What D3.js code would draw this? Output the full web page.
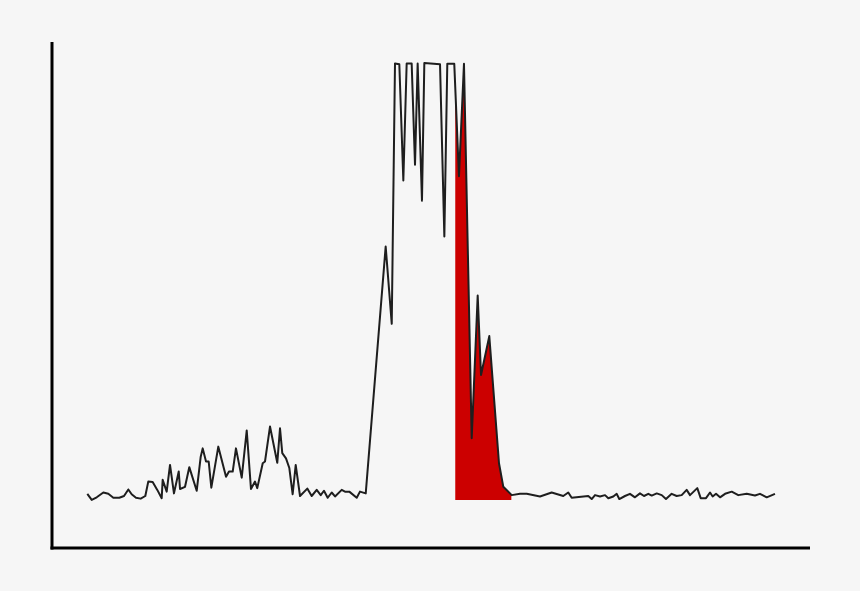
<!DOCTYPE html>
<html lang="en">
<head>
  <meta charset="UTF-8">
  <title>Signal with highlighted band</title>
  <script src="https://d3js.org/d3.v7.min.js"></script>
  <style>
    html, body { margin: 0; padding: 0; background: #f6f6f6; }
    .signal { fill: none; stroke: #1e1e1e; stroke-width: 2; stroke-linejoin: round; }
    .band { fill: #cc0000; }
    .axis-line { stroke: #000; stroke-width: 3; }
  </style>
</head>
<body>
  <div id="chart"></div>
  <script>
    // positions along the trace (arbitrary units, 0-100)
    const xs = [
      4.66, 5.24, 5.90, 6.77, 7.43, 8.09, 8.88, 9.50, 10.07, 10.51,
      11.08, 11.70, 12.31, 12.70, 13.28, 13.89, 14.47, 14.60, 15.13, 15.57,
      16.09, 16.72, 16.89, 17.55, 18.11, 19.09, 19.62, 19.88, 20.32, 20.67,
      21.02, 21.94, 22.96, 23.35, 23.84, 24.27, 25.03, 25.69, 26.25, 26.78,
      27.08, 27.80, 28.10, 28.76, 29.72, 30.08, 30.38, 30.87, 31.31, 31.75,
      32.15, 32.72, 33.68, 34.26, 34.92, 35.45, 35.88, 36.37, 36.90, 37.34,
      38.22, 38.65, 39.22, 40.20, 40.63, 41.39, 44.02, 44.82, 45.25, 45.82,
      46.35, 46.79, 47.45, 47.89, 48.24, 48.81, 49.12, 51.19, 51.76, 52.15,
      53.07, 53.69, 54.35, 55.37, 56.16, 56.60, 57.69, 58.97, 59.54, 60.65,
      61.74, 62.63, 64.38, 65.92, 67.45, 68.11, 68.56, 70.75, 71.20, 71.64,
      72.30, 72.96, 73.39, 74.05, 74.50, 74.84, 75.59, 76.25, 76.91, 77.57,
      78.10, 78.67, 79.12, 79.78, 80.44, 81.00, 81.75, 82.41, 83.07, 83.73,
      84.17, 85.13, 85.58, 86.28, 86.81, 87.16, 87.60, 88.13, 88.79, 89.67,
      90.54, 91.65, 92.74, 93.40, 94.29, 95.38
    ];

    // signal level at each position (percent of maximum)
    const values = [
      1.4, 0.0, 0.6, 1.7, 1.4, 0.5, 0.5, 0.9, 2.4, 1.3,
      0.5, 0.3, 0.9, 4.2, 4.1, 2.3, 0.4, 4.6, 1.9, 8.0,
      1.5, 6.5, 2.5, 3.0, 7.5, 2.1, 9.9, 11.8, 8.8, 8.8,
      2.8, 12.2, 5.3, 6.5, 6.5, 11.8, 5.1, 15.9, 2.5, 4.2,
      2.7, 8.4, 8.8, 16.8, 8.5, 16.4, 10.7, 9.5, 7.3, 1.3,
      8.0, 0.9, 2.6, 0.9, 2.3, 1.1, 2.1, 0.5, 1.7, 0.8,
      2.3, 1.9, 1.9, 0.5, 1.9, 1.5, 58.0, 40.3, 99.9, 99.7,
      73.1, 99.9, 99.9, 76.7, 99.9, 68.5, 100, 99.7, 60.3, 99.8,
      99.8, 74.1, 99.8, 14.1, 46.8, 28.6, 37.5, 8.4, 3.0, 1.1,
      1.4, 1.4, 0.8, 1.7, 0.9, 1.7, 0.5, 0.9, 0.2, 1.1,
      0.8, 1.1, 0.4, 0.8, 1.4, 0.2, 0.9, 1.4, 0.6, 1.5,
      0.9, 1.4, 1.0, 1.5, 1.1, 0.2, 1.4, 0.9, 1.1, 2.3,
      1.1, 2.7, 0.4, 0.4, 1.7, 0.8, 1.4, 0.6, 1.4, 1.9,
      1.1, 1.4, 1.0, 1.4, 0.6, 1.4
    ];

    // shaded interval on the x axis
    const band = [53.2, 60.6];

    const width = 860;
    const height = 591;
    const margin = { top: 42, right: 50, bottom: 43, left: 52 };

    const data = xs.map((x, i) => ({ x, y: values[i] }));

    const xScale = d3.scaleLinear()
      .domain([0, 100])
      .range([margin.left, width - margin.right]);

    const yScale = d3.scaleLinear()
      .domain([-11, 100])
      .range([height - margin.bottom, 63]);

    const svg = d3.select("#chart")
      .append("svg")
      .attr("width", width)
      .attr("height", height);

    svg.append("rect")
      .attr("width", width)
      .attr("height", height)
      .attr("fill", "#f6f6f6");

    // clip for the red band
    svg.append("clipPath")
      .attr("id", "band-clip")
      .append("rect")
      .attr("x", xScale(band[0]))
      .attr("y", 0)
      .attr("width", xScale(band[1]) - xScale(band[0]))
      .attr("height", height);

    const area = d3.area()
      .x(d => xScale(d.x))
      .y0(yScale(0))
      .y1(d => yScale(d.y));

    svg.append("path")
      .datum(data)
      .attr("class", "band")
      .attr("clip-path", "url(#band-clip)")
      .attr("d", area);

    const line = d3.line()
      .x(d => xScale(d.x))
      .y(d => yScale(d.y));

    svg.append("path")
      .datum(data)
      .attr("class", "signal")
      .attr("d", line);

    // axes drawn as plain lines, no ticks
    svg.append("line")
      .attr("class", "axis-line")
      .attr("x1", xScale(0)).attr("x2", xScale(0))
      .attr("y1", margin.top).attr("y2", yScale(-11) + 1.5);

    svg.append("line")
      .attr("class", "axis-line")
      .attr("x1", xScale(0) - 1.5).attr("x2", xScale(100))
      .attr("y1", yScale(-11)).attr("y2", yScale(-11));
  </script>
</body>
</html>
